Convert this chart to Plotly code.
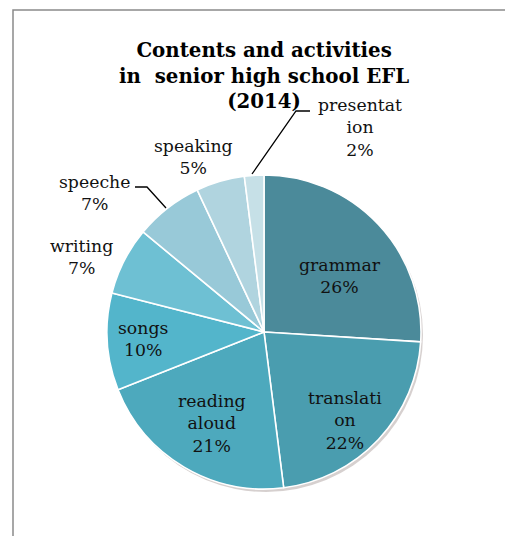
import plotly.graph_objects as go

# Share of class time by content / activity
categories = ["grammar", "translation", "reading aloud", "songs",
              "writing", "speeche", "speaking", "presentation"]
shares = [26, 22, 21, 10, 7, 7, 5, 2]
# How each label is broken over lines (text as printed)
label_lines = [["grammar"], ["translati", "on"], ["reading", "aloud"], ["songs"],
               ["writing"], ["speeche"], ["speaking"], ["presentat", "ion"]]
colors = ["#4B8A9A", "#4A9DAF", "#4DA9BD", "#53B5CB",
          "#6EC0D3", "#98C9D8", "#B0D4DF", "#C6E0E7"]

title_lines = ["Contents and activities", "in  senior high school EFL", "(2014)"]

W, H = 505, 536
cx, cy, r = 264, 332, 157          # pie centre / radius in pixels (from top)

def px(x):
    return x / W

def py(y):
    return 1 - y / H

fig = go.Figure()

# soft drop shadow under the pie
sh = 2
fig.add_trace(go.Pie(
    values=[1], labels=["shadow"], sort=False, textinfo="none",
    hoverinfo="skip", showlegend=False,
    marker=dict(colors=["rgba(120,100,95,0.30)"], line=dict(width=0)),
    domain=dict(x=[px(cx - r + sh), px(cx + r + sh)],
                y=[py(cy + r + sh + 1), py(cy - r + sh + 1)]),
))

fig.add_trace(go.Pie(
    values=shares, labels=categories, sort=False, direction="clockwise",
    rotation=0, textinfo="none", showlegend=False,
    marker=dict(colors=colors, line=dict(color="white", width=1.6)),
    domain=dict(x=[px(cx - r), px(cx + r)], y=[py(cy + r), py(cy - r)]),
))

# label anchor points (centre of the text block, pixels from top-left)
label_pos = {
    "grammar": (340, 276),
    "translation": (345, 420),
    "reading aloud": (212, 423),
    "songs": (143, 339),
    "writing": (81, 257),
    "speeche": (94, 193),
    "speaking": (193, 157),
    "presentation": (360, 127),
}

font_serif = "DejaVu Serif"
for cat, val, lines in zip(categories, shares, label_lines):
    x, y = label_pos[cat]
    txt = "<br>".join(lines + [f"{val}%"])
    fig.add_annotation(
        x=px(x), y=py(y), xref="paper", yref="paper",
        text=txt, showarrow=False, xanchor="center", yanchor="middle",
        font=dict(family=font_serif, size=17.3, color="#111111"),
    )

fig.add_annotation(
    x=px(264), y=py(75), xref="paper", yref="paper",
    text="<b>" + "<br>".join(title_lines) + "</b>", showarrow=False,
    xanchor="center", yanchor="middle",
    font=dict(family=font_serif, size=19.8, color="black"),
)

# leader lines for the small outer slices
leaders = [
    [(252, 174), (296, 111), (310, 111)],
    [(135, 187), (147, 187), (166, 208)],
]
for pts in leaders:
    path = "M " + " L ".join(f"{px(x)},{py(y)}" for x, y in pts)
    fig.add_shape(type="path", path=path, xref="paper", yref="paper",
                  line=dict(color="black", width=1.3))

# chart frame (left and top edges)
fig.add_shape(type="path",
              path=f"M {px(13)},{py(H + 5)} L {px(13)},{py(10)} L {px(W + 5)},{py(10)}",
              xref="paper", yref="paper",
              line=dict(color="#8a8a8a", width=1.5))

# tail of the text above the chart
fig.add_annotation(
    x=px(61), y=py(-1), xref="paper", yref="paper", text="g",
    showarrow=False, xanchor="center", yanchor="bottom",
    font=dict(family=font_serif, size=18, color="#222222"),
)

fig.update_layout(
    width=W, height=H, margin=dict(l=0, r=0, t=0, b=0),
    paper_bgcolor="white", plot_bgcolor="white",
)

fig.write_html("out.html")
